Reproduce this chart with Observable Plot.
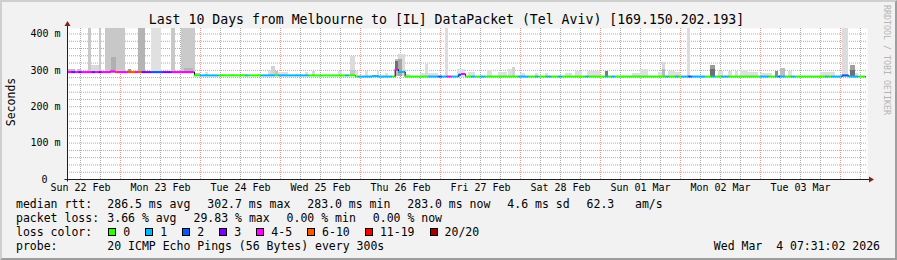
<!DOCTYPE html>
<html><head><meta charset="utf-8">
<script src="https://cdn.jsdelivr.net/npm/d3@7"></script>
<script src="https://cdn.jsdelivr.net/npm/@observablehq/plot@0.6"></script>
<style>
html,body{margin:0;padding:0;background:#f2f2f2;}
#chart{position:relative;width:897px;height:260px;background:#f2f2f2;overflow:hidden;}
#frame{position:absolute;left:0;top:0;width:897px;height:260px;box-sizing:border-box;border-top:2px solid #cfcfcf;border-left:2px solid #cfcfcf;border-right:2px solid #9e9e9e;border-bottom:2px solid #9e9e9e;pointer-events:none;}
svg text{white-space:pre;}
</style></head><body><div id="chart"><div id="frame"></div></div>
<script>
// ---------- data (hours since graph start) ----------
const START = Date.UTC(2026, 1, 22, 8, 6);
const HOUR = 3600e3;

const dayLabels = ["Sun 22 Feb","Mon 23 Feb","Tue 24 Feb","Wed 25 Feb","Thu 26 Feb","Fri 27 Feb","Sat 28 Feb","Sun 01 Mar","Mon 02 Mar","Tue 03 Mar"];
const yTicks = [100, 200, 300, 400];
const yTickLabels = ["100 m", "200 m", "300 m", "400 m"];
const yZeroLabel = "0";

const lossColors = ["#26ff00","#00b8ff","#0059ff","#7e00ff","#ff00ff","#ff5500","#ff0000","#a10000"];
const lossLabels = ["0","1","2","3","4-5","6-10","11-19","20/20"];

// median rtt segments: start hour, value (ms), loss colour index
const medianStart = [0,1.2,2.4,3.4,4.4,7.4,8.4,9.4,10.4,12.9,14.4,15.0,18.3,20.4,21.3,22.4,25.4,28.4,31.4,
  38.1,39.9,45.4,53.4,54.4,58.4,62.4,63.4,72.4,83.4,84.4,
  86.4,87.4,91.4,93.3,97.4,98.3,99.3,101.3,108.3,111.3,112.5,113.9,115.2,117.4,118.2,119.4,121.4,122.4,123.9,125.4,
  135.4,138.4,140.4,141.4,143.9,145.1,147.4,148.4,155.4,156.4,161.4,162.4,163.4,164.4,179.4,180.4,182.4,183.4,184.4,186.4,
  187.4,191.4,193.4,194.4,196.4,198.4,207.9,210.4,212.4,213.4,213.9,215.4,217.4,218.4,227.4,228.4,229.4,232.4,234.4,237.4];
const medianEnd = 239.4;
const medianValue = [295,295,295,295,295,295,295,295,295,297,295,295,295,295,295,295,295,295,295,
  286,286,286,286,286,286,286,286,286,286,286,
  283,283,284,283,283,302,296,283,283,283,283,283,283,288,290,283,283,283,283,283,
  283,283,283,283,283,283,283,283,283,283,283,283,283,283,283,283,283,283,283,283,
  283,283,283,283,283,283,283,283,283,283,283,283,283,283,283,283,283,286,283,283];
const medianLoss = [4,3,4,3,4,3,4,3,4,4,5,4,5,4,5,3,2,3,4,
  0,1,0,1,0,1,0,1,0,1,0,
  0,1,1,1,0,4,1,0,1,2,1,4,1,2,4,0,1,0,1,0,
  1,0,1,0,1,0,1,0,1,0,1,0,1,0,1,0,1,0,1,2,
  1,0,1,0,1,0,1,0,1,2,1,0,1,0,1,0,1,2,1,0];

// smoke (ping spread) bands: start hour, end hour, low ms, high ms, grey shade
const smokeStart = [0,3.0,6.3,7.2,9.6,11.4,13.2,18.3,21.3,25.2,31.2,34.2,35.1,38.4,41.4,46.2,49.2,52.2,57.3,60.3,61.2,62.4,63.3,68.4,71.4,73.5,81.3,84.9,84.9,86.4,89.4,93.0,95.4,98.4,98.4,99.3,99.3,100.4,101.4,105.9,107.4,108.3,113.4,116.9,120.3,126.0,129.3,132.3,133.5,135.9,140.4,143.4,149.4,152.4,156.0,161.4,169.5,171.9,177.3,178.5,178.5,180.3,182.4,186.0,192.9,192.9,195.3,198.3,200.4,201.9,204.3,207.9,212.4,213.9,216.3,225.9,232.5,234.9,234.9,236.4];
const smokeEnd   = [2.4,4.2,7.2,9.5,10.2,17.4,14.7,19.2,23.4,28.2,32.3,38.4,37.8,39.9,42.3,47.4,50.4,53.4,58.5,61.2,62.4,63.3,66.3,69.3,72.3,74.4,82.5,86.4,86.4,87.3,90.3,93.6,96.3,99.3,99.3,100.4,100.4,101.4,102.9,107.4,108.3,111.3,114.4,119.4,122.4,127.5,132.0,133.5,134.4,137.4,141.3,144.3,151.5,154.5,159.9,162.3,171.9,174.3,178.5,179.4,179.4,182.4,183.9,186.9,194.4,194.4,196.8,199.5,201.3,204.3,207.3,211.5,213.3,215.4,217.5,230.4,234.3,236.4,236.4,237.3];
const smokeLow   = [290,290,292,292,292,292,292,290,292,292,292,292,292,282,283,283,283,283,283,283,283,283,283,283,283,283,283,283,283,281,281,281,281,283,300,283,283,283,281,281,281,281,281,281,281,281,281,281,281,281,281,281,281,281,281,281,281,281,281,281,281,281,281,281,281,281,281,281,281,281,281,281,281,281,281,281,281,281,281,281];
const smokeHigh  = [302,302,415,314,415,415,335,302,415,415,415,415,306,292,293,289,289,289,289,299,310,297,293,288,293,296,297,338,300,297,297,297,290,331,325,343,331,343,288,292,316,290,415,301,294,299,294,302,308,292,292,292,290,297,296,296,292,303,293,322,302,296,293,415,313,302,297,297,297,300,294,290,297,305,297,293,415,314,300,290];
const smokeShade = ["#bdbdbd","#c4c4c4","#c8c8c8","#d9d9d9","#c8c8c8","#c8c8c8","#b0b0b0","#9a9a9a","#b4b4b4","#e0e0e0","#c8c8c8","#cacaca","#b4b4b4","#c8c8c8","#e0e0e0","#e0e0e0","#e0e0e0","#e0e0e0","#e0e0e0","#dedede","#d2d2d2","#c4c4c4","#e0e0e0","#e0e0e0","#e0e0e0","#d8d8d8","#e0e0e0","#dcdcdc","#c8c8c8","#e0e0e0","#e0e0e0","#e0e0e0","#e0e0e0","#bcbcbc","#707070","#d8d8d8","#a8a8a8","#dcdcdc","#e0e0e0","#e0e0e0","#dcdcdc","#e0e0e0","#dcdcdc","#e0e0e0","#e0e0e0","#e0e0e0","#e0e0e0","#e0e0e0","#d4d4d4","#e0e0e0","#e0e0e0","#e0e0e0","#e0e0e0","#e0e0e0","#e0e0e0","#7a7a7a","#e0e0e0","#e0e0e0","#e0e0e0","#d8d8d8","#b8b8b8","#e0e0e0","#e0e0e0","#dcdcdc","#9a9a9a","#6e6e6e","#e0e0e0","#e0e0e0","#e0e0e0","#e0e0e0","#e0e0e0","#e0e0e0","#8c8c8c","#bcbcbc","#e0e0e0","#e0e0e0","#dcdcdc","#a0a0a0","#707070","#e0e0e0"];

const titleText = "Last 10 Days from Melbourne to [IL] DataPacket (Tel Aviv) [169.150.202.193]";
const rttRow = ["median rtt:", "286.5 ms avg", "302.7 ms max", "283.0 ms min", "283.0 ms now", "4.6 ms sd", "62.3", "am/s"];
const lossRow = ["packet loss:", "3.66 % avg", "29.83 % max", "0.00 % min", "0.00 % now"];
const probeRow = ["probe:", "20 ICMP Echo Pings (56 Bytes) every 300s"];
const stampText = "Wed Mar  4 07:31:02 2026";

// ---------- build ----------
const T = h => new Date(START + h * HOUR);
const xDomain = [T(0), T(240)];
const smoke = smokeStart.map((s, i) => ({x1: T(s), x2: T(smokeEnd[i]), y1: smokeLow[i], y2: smokeHigh[i], fill: smokeShade[i]}));
const med = medianStart.map((s, i) => ({
  x1: T(s), x2: T(i + 1 < medianStart.length ? medianStart[i + 1] : medianEnd),
  y: medianValue[i], c: lossColors[medianLoss[i]]
}));
const stepPts = med.map(d => ({x: d.x1, y: d.y})).concat([{x: med[med.length - 1].x2, y: med[med.length - 1].y}]);
const dayTicks = dayLabels.map((_, i) => d3.utcHour.offset(new Date(Date.UTC(2026, 1, 22, 12)), 24 * i));
const labelMap = new Map(dayTicks.map((d, i) => [+d, dayLabels[i]]));
const minorX = d3.utcHour.every(6).range(xDomain[0], xDomain[1]).filter(d => d.getUTCHours() !== 0);
const majorX = d3.utcDay.range(xDomain[0], xDomain[1]);
const minorY = d3.range(20, 401, 20).filter(v => v % 100 !== 0);
const majorY = [100, 200, 300, 400];

const plot = Plot.plot({
  width: 897, height: 260,
  marginLeft: 67, marginRight: 30, marginTop: 28, marginBottom: 81,
  style: {background: "transparent", fontFamily: "'DejaVu Sans Mono', monospace", fontSize: "10px", color: "#000"},
  x: {type: "utc", domain: xDomain},
  y: {domain: [0, 415]},
  marks: [
    Plot.frame({fill: "#ffffff", stroke: null}),
    Plot.gridX({ticks: minorX, stroke: "#8f8f8f", strokeOpacity: 0.75, strokeDasharray: "1,1"}),
    Plot.gridY({ticks: minorY, stroke: "#8f8f8f", strokeOpacity: 0.75, strokeDasharray: "1,1"}),
    Plot.gridX({ticks: majorX, stroke: "#de4f4f", strokeOpacity: 0.6, strokeDasharray: "1,1"}),
    Plot.gridY({ticks: majorY, stroke: "#de4f4f", strokeOpacity: 0.6, strokeDasharray: "1,1"}),
    Plot.rect(smoke, {x1: "x1", x2: "x2", y1: "y1", y2: "y2", fill: d => d.fill, clip: true, shapeRendering: "crispEdges"}),
    Plot.line(stepPts, {x: "x", y: "y", curve: "step-after", stroke: "#000", strokeWidth: 1, clip: true}),
    Plot.ruleY(med, {x1: "x1", x2: "x2", y: "y", stroke: d => d.c, strokeWidth: 2, clip: true}),
    Plot.axisX({ticks: dayTicks, tickFormat: d => labelMap.get(+d), tickSize: 0, tickPadding: 4, fontSize: 10, label: null}),
    Plot.axisY({ticks: yTicks, tickFormat: v => yTickLabels[yTicks.indexOf(v)], tickSize: 0, tickPadding: 7, fontSize: 10, label: null}),
    Plot.axisY({ticks: [0], tickFormat: () => yZeroLabel, tickSize: 0, tickPadding: 20, fontSize: 10, label: null})
  ]
});
document.getElementById("chart").insertBefore(plot, document.getElementById("frame"));
plot.style.position = "absolute"; plot.style.left = "0"; plot.style.top = "0";

const svg = d3.select(plot);
const sx = plot.scale("x"), sy = plot.scale("y");
const X0 = Math.round(sx.apply(xDomain[0])) + 0.5, X1 = Math.round(sx.apply(xDomain[1]));
const Y0 = Math.round(sy.apply(0)) + 0.5;
const ink = "#1f1f1f", arrow = "#801f1f";
svg.append("line").attr("x1", X0).attr("x2", X0).attr("y1", Y0 + 2).attr("y2", 24).attr("stroke", ink);
svg.append("line").attr("x1", X0 - 3).attr("x2", X1 + 3).attr("y1", Y0).attr("y2", Y0).attr("stroke", ink);
svg.append("polygon").attr("points", `${X0},21 ${X0 - 3},26 ${X0 + 3},26`).attr("fill", arrow);
svg.append("polygon").attr("points", `${X1 + 7},${Y0} ${X1 + 2},${Y0 - 3} ${X1 + 2},${Y0 + 3}`).attr("fill", arrow);

const font = "'DejaVu Sans Mono', monospace";
function txt(x, y, s, size, anchor = "start", fill = "#000", transform = null) {
  const t = svg.append("text").attr("x", x).attr("y", y).attr("font-family", font).attr("font-size", size)
    .attr("fill", fill).attr("text-anchor", anchor).attr("xml:space", "preserve").text(s);
  if (transform) t.attr("transform", transform).attr("x", 0).attr("y", 0);
  return t;
}
txt(446.5, 24, titleText, 13.2, "middle");
txt(0, 0, "Seconds", 11.5, "middle", "#000", "translate(15,102) rotate(-90)");
txt(0, 0, "RRDTOOL / TOBI OETIKER", 8.3, "start", "#b4b4b4", "translate(884,5) rotate(90)");

const fs = 11.5;
const rttX = [16, 107.3, 207.3, 307.3, 407.3, 507.3, 586.6, 635];
rttRow.forEach((s, i) => txt(rttX[i], 207.5, s, fs));
const lossX = [16, 107.3, 193.5, 286.6, 372.8];
lossRow.forEach((s, i) => txt(lossX[i], 221.5, s, fs));
txt(16, 235.5, "loss color:", fs);
const boxX = [108.3, 145.3, 182.3, 219.3, 256.3, 307.1, 364.9, 429.6];
lossLabels.forEach((s, i) => {
  svg.append("rect").attr("x", Math.round(boxX[i]) + 0.5).attr("y", 228.5).attr("width", 7).attr("height", 7)
    .attr("fill", lossColors[i]).attr("stroke", "#000");
  txt(boxX[i] + 15, 235.5, s, fs);
});
txt(16, 249.5, probeRow[0], fs);
txt(107.3, 249.5, probeRow[1], fs);
txt(880, 249.5, stampText, fs, "end");
</script></body></html>
